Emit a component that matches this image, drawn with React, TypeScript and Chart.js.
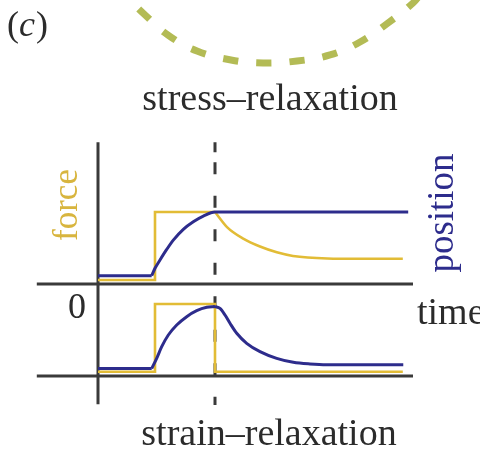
import React, { useEffect, useRef } from "react";
import { Chart, registerables } from "chart.js";

Chart.register(...registerables);

// ---------- data (time in arbitrary units, signals in normalised units) ----------
// top panel: stress-relaxation
const forceTopStepT = [0, 0.95, 0.95, 1.95];
const forceTopStepV = [0.055, 0.055, 1.0, 1.0];
const forceTopDecayT = [1.95, 2.15, 2.42, 2.7, 2.98, 3.25, 3.82, 4.37, 5.08];
const forceTopDecayV = [1.0, 0.79, 0.63, 0.52, 0.44, 0.39, 0.355, 0.35, 0.35];
const positionTopBaseT = [0, 0.895];
const positionTopBaseV = [0.115, 0.115];
const positionTopRiseT = [0.895, 0.95, 1.033, 1.145, 1.255, 1.422, 1.588, 1.755, 1.95, 5.17];
const positionTopRiseV = [0.115, 0.218, 0.333, 0.48, 0.61, 0.76, 0.865, 0.944, 1.0, 1.0];

// bottom panel: strain-relaxation
const forceBotT = [0, 0.95, 0.95, 1.95, 1.95, 5.08];
const forceBotV = [0.06, 0.06, 1.0, 1.0, 0.06, 0.06];
const positionBotBaseT = [0, 0.895];
const positionBotBaseV = [0.104, 0.104];
const positionBotRiseT = [0.895, 0.978, 1.062, 1.172, 1.312, 1.478, 1.645, 1.812, 1.95];
const positionBotRiseV = [0.104, 0.245, 0.407, 0.569, 0.708, 0.824, 0.907, 0.954, 0.965];
const positionBotDecayT = [1.95, 2.033, 2.117, 2.2, 2.312, 2.478, 2.7, 2.978, 3.255, 3.533, 3.812, 4.367, 5.088];
const positionBotDecayV = [0.965, 0.94, 0.847, 0.732, 0.593, 0.454, 0.338, 0.245, 0.19, 0.167, 0.157, 0.157, 0.157];

// axes and marker (time / top-panel units)
const timeAxisT = [-1.02, 5.25];
const valueAxisV = [1.97, -1.67];
const markerT = 1.95;
const markerV = [1.97, -1.68];
const markerCapV = [1.97, 1.83];

// decorative dashed arc above the panels (time / top-panel units)
const arcT = [0.45, 0.767, 1.167, 1.65, 2.217, 2.75, 3.317, 3.867, 4.367, 4.833, 5.25, 5.4];
const arcV = [4.01, 3.75, 3.458, 3.236, 3.111, 3.069, 3.097, 3.181, 3.361, 3.625, 3.903, 4.056];

// labels
const panelLabel = ["(", "c", ")"];
const topTitle = "stress–relaxation";
const bottomTitle = "strain–relaxation";
const forceLabel = "force";
const positionLabel = "position";
const zeroLabel = "0";
const timeLabel = "time";

// ---------- layout ----------
const W = 480;
const H = 452;
const T0_PX = 98;
const PX_PER_T = 60;
const TOP0_PY = 284;
const BOT0_PY = 376;
const PX_PER_V = 72;

const YELLOW = "#e2bc36";
const YELLOW_TEXT = "#d8b53e";
const BLUE = "#2d2c8c";
const AXIS = "#3a3a3a";
const TEXT = "#2b2b2b";
const ARC = "#b3bb55";
const SERIF = '"Liberation Serif", "Times New Roman", serif';

const pts = (t: number[], v: number[]) => t.map((x, i) => ({ x, y: v[i] }));

const textPlugin = {
  id: "figureText",
  afterDraw(chart: any) {
    const ctx = chart.ctx as CanvasRenderingContext2D;
    ctx.save();
    ctx.textBaseline = "alphabetic";

    // (c)
    ctx.fillStyle = TEXT;
    let x = 7;
    ctx.font = `36px ${SERIF}`;
    ctx.textAlign = "left";
    ctx.fillText(panelLabel[0], x, 36);
    x += ctx.measureText(panelLabel[0]).width;
    ctx.font = `italic 36px ${SERIF}`;
    ctx.fillText(panelLabel[1], x, 36);
    x += ctx.measureText(panelLabel[1]).width + 1;
    ctx.font = `36px ${SERIF}`;
    ctx.fillText(panelLabel[2], x, 36);

    // titles
    ctx.font = `38px ${SERIF}`;
    ctx.textAlign = "center";
    ctx.fillStyle = TEXT;
    ctx.fillText(topTitle, 270, 110);
    ctx.fillText(bottomTitle, 269, 445);

    // 0 and time
    ctx.textAlign = "left";
    ctx.font = `36px ${SERIF}`;
    ctx.fillText(zeroLabel, 68, 318);
    ctx.font = `38px ${SERIF}`;
    ctx.fillText(timeLabel, 417, 324);

    // rotated labels
    ctx.textAlign = "center";
    ctx.save();
    ctx.translate(77, 205);
    ctx.rotate(-Math.PI / 2);
    ctx.font = `35px ${SERIF}`;
    ctx.fillStyle = YELLOW_TEXT;
    ctx.fillText(forceLabel, 0, 0);
    ctx.restore();

    ctx.save();
    ctx.translate(453, 213);
    ctx.rotate(-Math.PI / 2);
    ctx.font = `37px ${SERIF}`;
    ctx.fillStyle = BLUE;
    ctx.fillText(positionLabel, 0, 0);
    ctx.restore();

    ctx.restore();
  },
};

export default function App() {
  const ref = useRef<HTMLCanvasElement | null>(null);

  useEffect(() => {
    if (!ref.current) return;
    const line = (
      data: { x: number; y: number }[],
      color: string,
      width: number,
      axis: string,
      order: number,
      extra: any = {}
    ) => ({
      data,
      borderColor: color,
      borderWidth: width,
      yAxisID: axis,
      xAxisID: "x",
      pointRadius: 0,
      fill: false,
      tension: 0,
      order,
      ...extra,
    });
    const smooth = { cubicInterpolationMode: "monotone" };

    const datasets = [
      // decorative arc (bottom layer)
      line(pts(arcT, arcV), ARC, 7, "yTop", 50, {
        tension: 0.4,
        borderDash: [15, 18.3],
        borderDashOffset: 13.9,
      }),
      // axes
      line(pts([0, 0], valueAxisV), AXIS, 3, "yTop", 40),
      line(pts(timeAxisT, [0, 0]), AXIS, 3, "yTop", 40),
      line(pts(timeAxisT, [0, 0]), AXIS, 3, "yBot", 40),
      // dashed marker
      line(pts([markerT, markerT], markerV), AXIS, 3, "yTop", 30, {
        borderDash: [12, 21.5],
        borderDashOffset: 13.5,
      }),
      line(pts([markerT, markerT], markerCapV), AXIS, 3, "yTop", 30),
      // force (yellow)
      line(pts(forceTopStepT, forceTopStepV), YELLOW, 2.6, "yTop", 20),
      line(pts(forceTopDecayT, forceTopDecayV), YELLOW, 2.6, "yTop", 20, smooth),
      line(pts(forceBotT, forceBotV), YELLOW, 2.6, "yBot", 20),
      // position (blue)
      line(pts(positionTopBaseT, positionTopBaseV), BLUE, 3, "yTop", 10),
      line(pts(positionTopRiseT, positionTopRiseV), BLUE, 3, "yTop", 10, smooth),
      line(pts(positionBotBaseT, positionBotBaseV), BLUE, 3, "yBot", 10),
      line(pts(positionBotRiseT, positionBotRiseV), BLUE, 3, "yBot", 10, smooth),
      line(pts(positionBotDecayT, positionBotDecayV), BLUE, 3, "yBot", 10, smooth),
    ];

    const chart = new Chart(ref.current, {
      type: "line",
      data: { datasets: datasets as any },
      options: {
        responsive: false,
        animation: false,
        events: [],
        layout: { padding: 0 },
        plugins: {
          legend: { display: false },
          tooltip: { enabled: false },
          title: { display: false },
        },
        scales: {
          x: {
            type: "linear",
            display: false,
            min: -T0_PX / PX_PER_T,
            max: (W - T0_PX) / PX_PER_T,
          },
          yTop: {
            type: "linear",
            display: false,
            min: -(H - TOP0_PY) / PX_PER_V,
            max: TOP0_PY / PX_PER_V,
          },
          yBot: {
            type: "linear",
            display: false,
            min: -(H - BOT0_PY) / PX_PER_V,
            max: BOT0_PY / PX_PER_V,
          },
        },
      } as any,
      plugins: [textPlugin],
    });
    return () => chart.destroy();
  }, []);

  return (
    <div style={{ position: "absolute", left: 0, top: 0, width: W, height: H, background: "#fff" }}>
      <canvas ref={ref} width={W} height={H} style={{ display: "block" }} />
    </div>
  );
}
